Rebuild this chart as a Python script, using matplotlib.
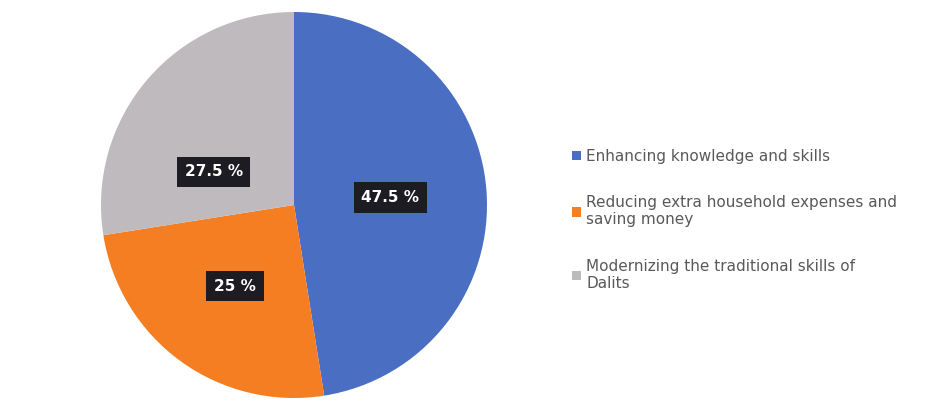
import numpy as np
import matplotlib
matplotlib.use('Agg')
import matplotlib.pyplot as plt

# Data
categories = ['Enhancing knowledge and skills',
              'Reducing extra household expenses and\nsaving money',
              'Modernizing the traditional skills of\nDalits']
shares = [47.5, 25.0, 27.5]
label_texts = ['47.5 %', '25 %', '27.5 %']
colors = ['#4A6FC2', '#F57E22', '#BEBABE']

plt.rcParams['font.family'] = ['DejaVu Sans']

fig = plt.figure(figsize=(9.32, 4.17), dpi=100)
fig.patch.set_facecolor('white')

# pie axes in pixel-like coordinates
ax = fig.add_axes([0, 0, 1, 1])
wedges, _ = ax.pie(shares, colors=colors, startangle=90, counterclock=False,
                   center=(294, 212), radius=193, frame=True,
                   wedgeprops=dict(linewidth=0))
ax.set_xlim(0, 932)
ax.set_ylim(0, 417)
ax.set_aspect('equal')
ax.axis('off')

# data labels: black boxes, white bold text
dists = [0.50, 0.52, 0.45]
angle_shift = [0, 0, 18]
for w, txt, d, sh in zip(wedges, label_texts, dists, angle_shift):
    ang = np.deg2rad((w.theta1 + w.theta2) / 2 + sh)
    x = w.center[0] + d * w.r * np.cos(ang)
    y = w.center[1] + d * w.r * np.sin(ang)
    ax.text(x, y, txt, ha='center', va='center', color='white',
            fontsize=11, fontweight='bold',
            bbox=dict(boxstyle='square,pad=0.5', facecolor='#1c1c22',
                      edgecolor='none'))

leg = fig.legend(wedges, categories, loc='upper left',
                 bbox_to_anchor=(558 / 932, 1 - 135 / 417),
                 frameon=False, fontsize=11, labelcolor='#595959',
                 handlelength=0.6, handleheight=0.6, handletextpad=0.35,
                 labelspacing=2.05)

fig.savefig('out.png', dpi=100, facecolor='white')
